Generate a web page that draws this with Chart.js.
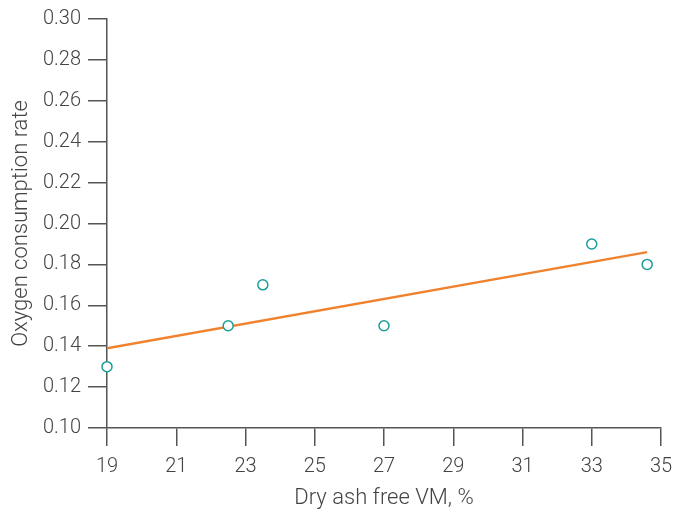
<!DOCTYPE html>
<html>
<head>
<meta charset="utf-8">
<script src="https://cdn.jsdelivr.net/npm/chart.js@4.4.1/dist/chart.umd.min.js"></script>
<style>
  html, body { margin: 0; padding: 0; background: #fff; }
  #wrap { width: 675px; height: 512px; }
</style>
</head>
<body>
<div id="wrap"><canvas id="chart"></canvas></div>
<script>
// measured points
const vmPercent = [19, 22.5, 23.5, 27, 33, 34.6];
const oxygenRate = [0.13, 0.15, 0.17, 0.15, 0.19, 0.18];

// fitted trend line
const trendX = [19, 34.6];
const trendY = [0.139, 0.186];

const axisColor = "#555";
const textColor = "#444";
const tickFont = { family: "Roboto, 'Liberation Sans', sans-serif", size: 20, weight: 300 };
const titleFont = { family: "Roboto, 'Liberation Sans', sans-serif", size: 22, weight: 300 };

const ctx = document.getElementById("chart");

new Chart(ctx, {
  type: "scatter",
  data: {
    datasets: [
      {
        label: "Trend",
        type: "line",
        data: trendX.map((x, i) => ({ x: x, y: trendY[i] })),
        borderColor: "#f0822e",
        borderWidth: 2.5,
        pointRadius: 0,
        fill: false,
        order: 2,
      },
      {
        label: "Measured",
        data: vmPercent.map((x, i) => ({ x: x, y: oxygenRate[i] })),
        borderColor: "#1a9e9a",
        backgroundColor: "#fff",
        borderWidth: 1.5,
        pointRadius: 5,
        clip: false,
        order: 1,
      },
    ],
  },
  options: {
    responsive: true,
    maintainAspectRatio: false,
    animation: false,
    layout: {
      padding: { top: 19, right: 14, left: 8, bottom: 0 },
    },
    plugins: {
      legend: { display: false },
      tooltip: { enabled: false },
    },
    scales: {
      x: {
        type: "linear",
        min: 19,
        max: 35,
        afterFit: (scale) => { scale.height = 84; scale.paddingRight = 0; scale.paddingLeft = 0; },
        ticks: { stepSize: 2, color: textColor, font: tickFont, padding: 9 },
        grid: { drawOnChartArea: false, drawTicks: true, tickLength: 18, color: axisColor, lineWidth: 1.5 },
        border: { display: true, color: axisColor, width: 1.5 },
        title: { display: true, text: "Dry ash free VM, %", color: textColor, font: titleFont, padding: { top: 4, bottom: 0 } },
      },
      y: {
        type: "linear",
        min: 0.1,
        max: 0.3,
        afterFit: (scale) => { scale.width = 99; },
        ticks: {
          stepSize: 0.02,
          color: textColor,
          font: tickFont,
          padding: 7,
          callback: (v) => v.toFixed(2),
        },
        grid: { drawOnChartArea: false, drawTicks: true, tickLength: 19, color: axisColor, lineWidth: 1.5 },
        border: { display: true, color: axisColor, width: 1.5 },
        title: { display: true, text: "Oxygen consumption rate", color: textColor, font: titleFont, padding: 0 },
      },
    },
  },
});
</script>
</body>
</html>
